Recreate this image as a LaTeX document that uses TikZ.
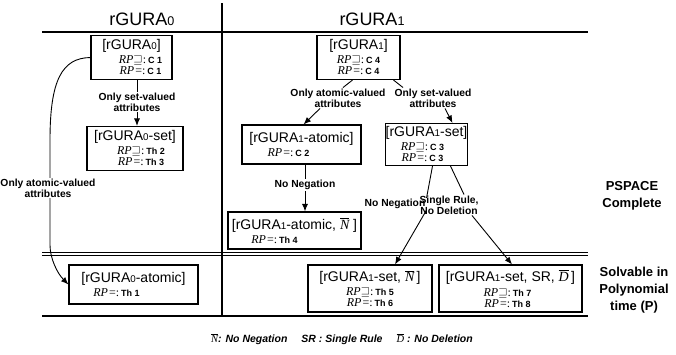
\documentclass[tikz,border=0pt]{standalone}
\usepackage{amssymb}
\usepackage{fontspec}
\setmainfont{Liberation Sans}
\newfontfamily\tms{Liberation Serif}
\usetikzlibrary{arrows.meta}

% small index digit sitting on the baseline (rGURA0, rGURA1)
\newcommand\lo[1]{\scalebox{0.7}{#1}}
% result lines inside the boxes
\newcommand\thm[1]{{\fontsize{9}{10}\selectfont\bfseries\upshape #1}}
\newcommand\rpsq[1]{{\tms\itshape RP}$\sqsupseteq${\tms :}\,\thm{#1}}
\newcommand\rpeq[1]{{\tms\itshape RP}\kern1pt{\tms =:}\,\thm{#1}}
\newcommand\nbar{$\overline{\mbox{\tms\mdseries\itshape N}}$}
\newcommand\dbar{$\overline{\mbox{\tms\mdseries\itshape D}}$}
\newcommand\ttl[1]{{\fontsize{14}{16}\selectfont #1}}

\tikzset{
  model/.style={draw, line width=1.1pt, align=center, inner sep=0pt,
    font=\fontsize{12}{11.5}\selectfont},
  elab/.style={align=center, inner sep=1pt,
    font=\fontsize{10.3}{11}\selectfont\bfseries},
  conn/.style={line width=0.9pt},
  arr/.style={conn, -{Latex[length=7.5pt,width=6pt]}},
  rule/.style={line width=1.3pt},
  thinrule/.style={line width=0.7pt},
  side/.style={align=center, font=\fontsize{13}{17}\selectfont\bfseries},
  head/.style={font=\fontsize{18}{20}\selectfont}
}

\begin{document}
\begin{tikzpicture}[x=1pt,y=-1pt]
\fill[white] (0,0) rectangle (676,354);
\useasboundingbox (0,0) rectangle (676,354);

% table rules
\draw[rule] (42,32) -- (588,32);
\draw[line width=1.1pt] (222,3) -- (222,316);
\draw[thinrule] (42,252) -- (588,252);
\draw[thinrule] (42,255) -- (588,255);
\draw[rule] (42,316) -- (588,316);

% column headers
\node[head] (h0) at (142,19) {rGURA\lo{0}};
\node[head] (h1) at (372,19) {rGURA\lo{1}};

% rGURA0 column
\node[model, minimum width=81pt, minimum height=44pt] (r0) at (131.5,57.5)
  {\ttl{[rGURA\lo{0}]}\\[2pt]\mbox{\hspace{18pt}\rpsq{C 1}}\\\mbox{\hspace{18pt}\rpeq{C 1}}};
\node[model, minimum width=96pt, minimum height=44pt] (r0set) at (135,148.5)
  {\ttl{[rGURA\lo{0}-set]}\\[2pt]\mbox{\hspace{12pt}\rpsq{Th 2}}\\\mbox{\hspace{12pt}\rpeq{Th 3}}};
\node[model, minimum width=129pt, minimum height=39pt] (r0atomic) at (133.5,284.5)
  {\ttl{[rGURA\lo{0}-atomic]}\\[2pt]\mbox{\rpeq{Th 1}\hspace{34pt}}};

\node[elab] (l0set) at (137,102) {Only set-valued\\attributes};
\draw[conn] (r0.south -| l0set.center) -- (l0set.north);
\draw[arr] (l0set.south) -- (r0set.north -| l0set.center);

\draw[arr] (r0.west) .. controls (62,58) and (50,80) .. (50,140)
  -- (50,245) .. controls (50,258) and (57,273) .. (r0atomic.west);
\node[elab, fill=white] (l0atomic) at (48,188) {Only atomic-valued\\attributes};

% rGURA1 column
\node[model, minimum width=83pt, minimum height=44pt] (r1) at (358.5,57.5)
  {\ttl{[rGURA\lo{1}]}\\[2pt]\rpsq{C 4}\\\rpeq{C 4}};
\node[model, minimum width=119pt, minimum height=39pt] (r1atomic) at (301.5,144.5)
  {\ttl{[rGURA\lo{1}-atomic]}\\[2pt]\mbox{\rpeq{C 2}\hspace{26pt}}};
\node[model, minimum width=133pt, minimum height=37pt] (r1atomicN) at (294.5,230.5)
  {\ttl{[rGURA\lo{1}-atomic, \nbar\ ]}\\[2pt]\mbox{\rpeq{Th 4}\hspace{40pt}}};
\node[model, minimum width=77pt, minimum height=42pt] (r1set) at (426.5,144.5)
  {\ttl{[rGURA\lo{1}-set]}\\[2pt]\mbox{\rpsq{C 3}\hspace{8pt}}\\\mbox{\rpeq{C 3}\hspace{8pt}}};
\node[model, minimum width=124pt, minimum height=47pt] (r1setN) at (370,288.5)
  {\ttl{[rGURA\lo{1}-set, \nbar\,]}\\[2pt]\rpsq{Th 5}\\\rpeq{Th 6}};
\node[model, minimum width=143pt, minimum height=47pt] (r1setSRD) at (510.5,288.5)
  {\ttl{[rGURA\lo{1}-set, SR, \dbar\,]}\\[3.5pt]\mbox{\rpsq{Th 7}\hspace{6pt}}\\\mbox{\rpeq{Th 8}\hspace{6pt}}};

\node[elab] (l1atomic) at (338,98) {Only atomic-valued\\attributes};
\draw[conn] ([xshift=-6pt]r1.south) -- ([xshift=5pt]l1atomic.north);
\draw[arr] ([xshift=-18pt]l1atomic.south) -- ([xshift=2pt]r1atomic.north);

\node[elab] (l1set) at (433,98) {Only set-valued\\attributes};
\draw[conn] ([xshift=35pt]r1.south) -- ([xshift=-30pt]l1set.north);
\draw[arr] ([xshift=12pt]l1set.south) -- ([xshift=26pt]r1set.north);

\node[elab] (l1neg) at (305,185) {No Negation};
\draw[conn] (r1atomic.south -| l1neg.center) -- (l1neg.north);
\draw[arr] (l1neg.south) -- (r1atomicN.north -| l1neg.center);

\node[elab] (l1setneg) at (395,204) {No Negation};
\draw[conn] ([xshift=6pt]r1set.south) -- (l1setneg.north east);
\draw[arr] (l1setneg.south east) -- ([xshift=25pt]r1setN.north);

\node[elab] (l1srd) at (449,205) {Single Rule,\\No Deletion};
\draw[conn] ([xshift=24pt]r1set.south) -- ([xshift=15pt]l1srd.north);
\draw[arr] ([xshift=23pt]l1srd.south) -- ([xshift=1.5pt]r1setSRD.north);

% complexity classes
\node[side] (pspace) at (632,196) {PSPACE\\Complete};
\node[side] (poly) at (634,290) {Solvable in\\Polynomial\\time (P)};

% legend
\node[font=\fontsize{10.5}{12}\selectfont\bfseries\itshape] (legend) at (342,339)
  {\nbar: No Negation\hspace{14pt}SR : Single Rule\hspace{14pt}\dbar\ : No Deletion};
\end{tikzpicture}
\end{document}
